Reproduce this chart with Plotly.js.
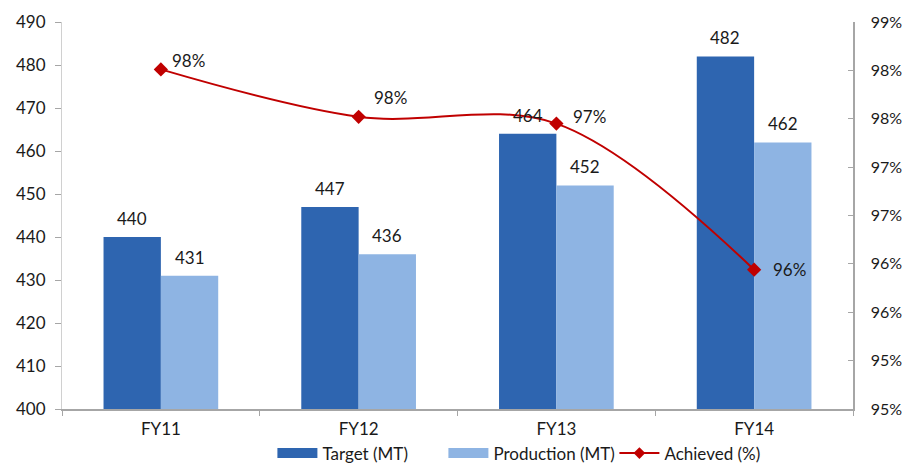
<!DOCTYPE html>
<html>
<head>
<meta charset="utf-8">
<script src="https://cdn.plot.ly/plotly-3.0.1.min.js"></script>
<style>html,body{margin:0;padding:0;background:#fff;}#chart{width:907px;height:464px;}</style>
</head>
<body>
<div id="chart"></div>
<script>
const categories = ['FY11', 'FY12', 'FY13', 'FY14'];
const target = [440, 447, 464, 482];
const production = [431, 436, 452, 462];
const achieved = [0.9801, 0.9752, 0.9745, 0.9594];
const achievedLabels = ['98%', '98%', '97%', '96%'];
const leftTickVals = [400, 410, 420, 430, 440, 450, 460, 470, 480, 490];
const rightTickVals = [0.945, 0.95, 0.955, 0.96, 0.965, 0.97, 0.975, 0.98, 0.985];
const rightTickText = ['95%', '95%', '96%', '96%', '97%', '97%', '98%', '98%', '99%'];

const FONT = 'Lato, "Open Sans", sans-serif';
const FS = 17;
const txtColor = '#1a1a1a';
const axisGrey = '#a6a6a6';
const cTarget = '#2E65B0', cProd = '#8EB4E3', cLine = '#C00000';

const W = 907, H = 464;
const margin = {l: 62, r: 54, t: 22, b: 55};
const bargap = 0.42;
const plotW = W - margin.l - margin.r;
const barOffset = plotW / categories.length * (1 - bargap) / 4;

const traces = [
  {type: 'bar', name: 'Target (MT)', x: categories, y: target, marker: {color: cTarget}, showlegend: false},
  {type: 'bar', name: 'Production (MT)', x: categories, y: production, marker: {color: cProd}, showlegend: false},
  {
    type: 'scatter', name: 'Achieved (%)', x: categories, y: achieved, yaxis: 'y2',
    mode: 'lines+markers',
    line: {color: cLine, width: 2, shape: 'spline', smoothing: 1},
    marker: {symbol: 'diamond', size: 11, color: cLine},
    cliponaxis: false, showlegend: false
  },
  // legend-only entries
  {type: 'scatter', name: 'Target (MT)', x: [null], y: [null], mode: 'lines', line: {color: cTarget, width: 12}},
  {type: 'scatter', name: 'Production (MT)', x: [null], y: [null], mode: 'lines', line: {color: cProd, width: 12}},
  {type: 'scatter', name: 'Achieved (%)', x: [null], y: [null], yaxis: 'y2', mode: 'lines+markers',
   line: {color: cLine, width: 2}, marker: {symbol: 'diamond', size: 9, color: cLine}}
];

const annotations = [];
const valFont = {family: FONT, size: FS, color: txtColor};
categories.forEach((c, i) => {
  annotations.push({x: c, y: target[i], xref: 'x', yref: 'y', text: String(target[i]),
    showarrow: false, xshift: -barOffset, yshift: 6, yanchor: 'bottom', font: valFont});
  annotations.push({x: c, y: production[i], xref: 'x', yref: 'y', text: String(production[i]),
    showarrow: false, xshift: barOffset, yshift: 6, yanchor: 'bottom', font: valFont});
});
const lineLabelShift = [[9, 9], [13, 19], [15, 7], [17, 0]];
categories.forEach((c, i) => {
  annotations.push({x: c, y: achieved[i], xref: 'x', yref: 'y2', text: achievedLabels[i],
    showarrow: false, xanchor: 'left', yanchor: 'middle',
    xshift: lineLabelShift[i][0], yshift: lineLabelShift[i][1], font: valFont});
});

const layout = {
  width: W, height: H,
  margin: Object.assign({autoexpand: false}, margin),
  paper_bgcolor: '#fff', plot_bgcolor: '#fff',
  font: {family: FONT, size: FS, color: txtColor},
  barmode: 'group', bargap: bargap, bargroupgap: 0,
  showlegend: true,
  legend: {
    orientation: 'h', x: 0.266, xanchor: 'left', y: -0.115, yanchor: 'middle',
    bgcolor: 'rgba(0,0,0,0)',
    font: {family: FONT, size: FS, color: txtColor},
    itemwidth: 40, traceorder: 'normal', tracegroupgap: 0,
    entrywidth: 116, entrywidthmode: 'pixels'
  },
  annotations: annotations,
  xaxis: {
    type: 'category', showline: true, linecolor: axisGrey, linewidth: 1.5,
    ticks: 'outside', tickson: 'boundaries', ticklen: 5, tickcolor: axisGrey,
    showgrid: false, zeroline: false, ticklabelstandoff: 4,
    tickfont: {family: FONT, size: FS, color: txtColor}
  },
  yaxis: {
    range: [400, 490], tickvals: leftTickVals, showline: true, linecolor: '#d0d0d0', linewidth: 1,
    ticks: 'outside', ticklen: 6, tickcolor: axisGrey, showgrid: false, zeroline: false,
    ticklabelstandoff: 6,
    tickfont: {family: FONT, size: FS, color: txtColor}
  },
  yaxis2: {
    overlaying: 'y', side: 'right', range: [0.945, 0.985],
    tickvals: rightTickVals, ticktext: rightTickText,
    showline: true, linecolor: axisGrey, linewidth: 1.5,
    ticks: 'inside', ticklen: 5, tickcolor: axisGrey, showgrid: false, zeroline: false,
    ticklabelstandoff: 13,
    tickfont: {family: FONT, size: 16, color: txtColor}
  }
};

Plotly.newPlot('chart', traces, layout, {displayModeBar: false, staticPlot: true});
</script>
</body>
</html>
